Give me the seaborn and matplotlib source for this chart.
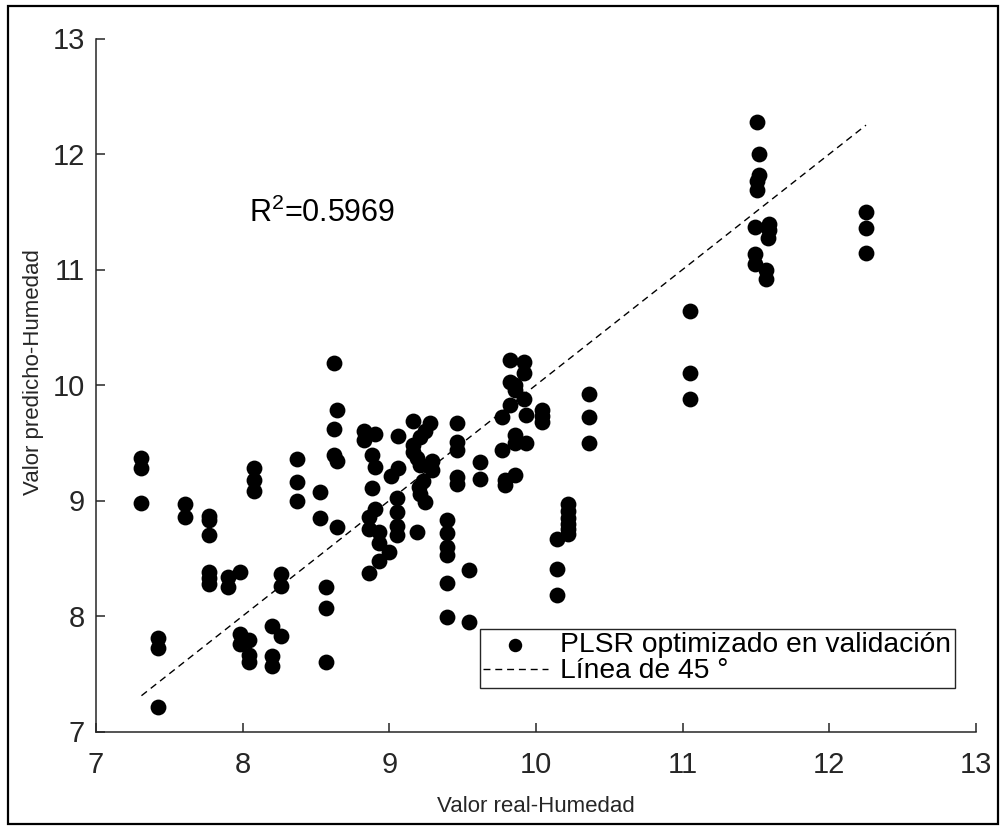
import numpy as np
import pandas as pd
import matplotlib
matplotlib.use("Agg")
import matplotlib.pyplot as plt
from matplotlib.patches import Rectangle
import seaborn as sns

# ---- data ----
real = [7.31, 7.31, 7.31, 7.42, 7.42, 7.42, 7.61, 7.61, 7.77, 7.77,
        7.77, 7.77, 7.77, 7.77, 7.90, 7.90, 7.98, 7.98, 7.98, 8.04,
        8.04, 8.04, 8.20, 8.26, 8.20, 8.20, 8.26, 8.26, 8.08, 8.08,
        8.08, 8.37, 8.37, 8.37, 8.53, 8.53, 8.57, 8.57, 8.57, 8.62,
        8.64, 8.62, 8.62, 8.64, 8.64,
        8.83, 8.90, 8.83, 9.06, 9.16, 9.28, 9.24, 9.21, 9.16, 9.16,
        9.19, 9.21, 9.29, 9.29, 9.23, 9.20, 9.21, 9.24, 8.88, 8.90,
        9.06, 9.01, 8.88, 8.90, 8.86, 9.05, 9.05, 9.05, 9.05, 8.86,
        8.93, 8.93, 9.19, 9.00, 8.93, 8.86,
        9.39, 9.39, 9.39, 9.39, 9.39, 9.39,
        9.46, 9.46, 9.46, 9.46, 9.46, 9.54, 9.54, 9.62, 9.62,
        9.82, 9.92, 9.92, 9.82, 9.86, 9.86, 9.92, 9.82, 9.77, 9.93,
        10.04, 10.04, 10.04, 9.86, 9.86, 9.93, 9.77, 9.86, 9.79, 9.79,
        10.14, 10.14, 10.14,
        10.22, 10.22, 10.22, 10.22, 10.22, 10.22,
        10.36, 10.36, 10.36,
        11.05, 11.05, 11.05,
        11.51, 11.52, 11.52, 11.51, 11.51, 11.49, 11.49, 11.49,
        11.59, 11.59, 11.58, 11.57, 11.57,
        12.25, 12.25, 12.25]

predicho = [9.37, 9.28, 8.98, 7.81, 7.72, 7.21, 8.97, 8.86, 8.87, 8.83,
            8.70, 8.38, 8.33, 8.28, 8.34, 8.25, 8.38, 7.84, 7.76, 7.79,
            7.66, 7.60, 7.91, 7.83, 7.65, 7.57, 8.36, 8.26, 9.28, 9.18,
            9.08, 9.36, 9.16, 9.00, 9.07, 8.85, 8.25, 8.07, 7.60, 10.19,
            9.78, 9.62, 9.39, 9.34, 8.77,
            9.60, 9.58, 9.52, 9.56, 9.69, 9.67, 9.60, 9.55, 9.48, 9.42,
            9.37, 9.31, 9.34, 9.26, 9.17, 9.12, 9.06, 8.99, 9.39, 9.29,
            9.28, 9.21, 9.11, 8.93, 8.86, 9.02, 8.90, 8.78, 8.70, 8.75,
            8.73, 8.63, 8.73, 8.55, 8.48, 8.37,
            8.83, 8.72, 8.60, 8.53, 8.29, 7.99,
            9.67, 9.51, 9.44, 9.20, 9.14, 8.40, 7.95, 9.33, 9.19,
            10.22, 10.20, 10.10, 10.03, 10.00, 9.96, 9.88, 9.83, 9.72, 9.74,
            9.78, 9.73, 9.68, 9.57, 9.50, 9.50, 9.44, 9.22, 9.18, 9.13,
            8.67, 8.41, 8.18,
            8.97, 8.91, 8.85, 8.80, 8.75, 8.71,
            9.92, 9.72, 9.50,
            10.64, 10.10, 9.88,
            12.28, 12.00, 11.82, 11.77, 11.69, 11.37, 11.13, 11.05,
            11.39, 11.34, 11.27, 11.00, 10.92,
            11.50, 11.36, 11.14]

ticks = [7, 8, 9, 10, 11, 12, 13]
r2_text = r"R$^{\mathrm{2}}$=0.5969"
label_points = "PLSR optimizado en validación"
label_line = "Línea de 45 °"
xlabel = "Valor real-Humedad"
ylabel = "Valor predicho-Humedad"

df = pd.DataFrame({"real": real, "predicho": predicho})
line_x = [min(real), max(real)]

# ---- style ----
sns.set_style("ticks")
plt.rcParams["font.family"] = ["Liberation Sans", "DejaVu Sans"]
plt.rcParams["mathtext.fontset"] = "custom"
plt.rcParams["mathtext.rm"] = "Liberation Sans"
plt.rcParams["mathtext.it"] = "Liberation Sans:italic"
plt.rcParams["mathtext.bf"] = "Liberation Sans:bold"

axcol = "#262626"

fig = plt.figure(figsize=(10.01, 8.26), dpi=100)
fig.patch.set_facecolor("white")
ax = fig.add_axes([96 / 1001, 1 - 731.5 / 826, 880 / 1001, 693 / 826])

sns.scatterplot(data=df, x="real", y="predicho", ax=ax, color="black",
                s=130, linewidth=0, label=label_points, zorder=3)
sns.lineplot(x=line_x, y=line_x, ax=ax, color="black", linewidth=1.0,
             linestyle=(0, (5, 3.5)), label=label_line, zorder=2)

ax.set_xlim(7, 13)
ax.set_ylim(7, 13)
ax.set_xticks(ticks)
ax.set_yticks(ticks)
ax.set_xticklabels([str(t) for t in ticks])
ax.set_yticklabels([str(t) for t in ticks])

for side in ["top", "right"]:
    ax.spines[side].set_visible(False)
for side in ["left", "bottom"]:
    ax.spines[side].set_color(axcol)
    ax.spines[side].set_linewidth(1.1)

ax.tick_params(axis="both", direction="in", length=6.5, width=1.1,
               color=axcol, labelcolor=axcol, labelsize=21)
ax.tick_params(axis="x", pad=14)
ax.tick_params(axis="y", pad=8)

ax.set_xlabel(xlabel, fontsize=16, color=axcol, labelpad=12)
ax.set_ylabel(ylabel, fontsize=16, color=axcol, labelpad=6)
ax.yaxis.label.set_y(0.518)

ax.text(8.04, 11.49, r2_text, fontsize=22, color="black", va="center", ha="left")

leg = ax.legend(loc="lower right", bbox_to_anchor=(0.976, 0.063),
                fontsize=20.3, frameon=True, fancybox=False, framealpha=1,
                edgecolor=axcol, borderpad=0.12, labelspacing=0.0,
                handlelength=2.3, handletextpad=0.45, borderaxespad=0,
                markerscale=0.85)
leg.get_frame().set_linewidth(1.0)
for t in leg.get_texts():
    t.set_color("black")

# figure border
fig.add_artist(Rectangle((8 / 1001, 2 / 826), 990 / 1001, 818 / 826,
                         transform=fig.transFigure, fill=False,
                         edgecolor="black", linewidth=1.6))

fig.savefig("out.png", dpi=100)
